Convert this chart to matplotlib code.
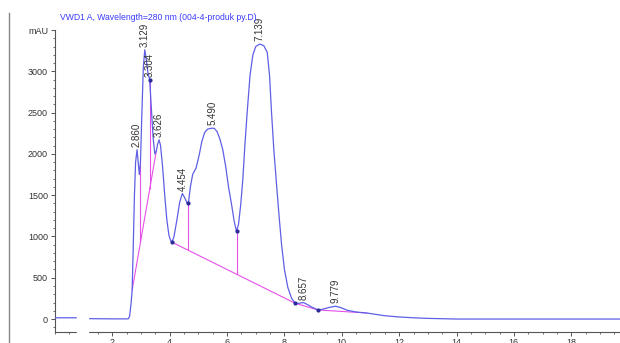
import matplotlib.pyplot as plt
from matplotlib.lines import Line2D
from matplotlib.patches import Rectangle
from matplotlib.ticker import MultipleLocator

plt.rcParams['font.family'] = ['Liberation Sans', 'DejaVu Sans']

# senal del detector: tiempo (min) y absorbancia (mAU)
t = [0.0, 0.9, 1.1, 2.0, 2.55, 2.60, 2.65, 2.69, 2.73, 2.77, 2.81, 2.86, 2.90, 2.94,
     2.98, 3.03, 3.08, 3.13, 3.18, 3.24, 3.30, 3.36, 3.42, 3.48, 3.53, 3.58, 3.63,
     3.68, 3.75, 3.83, 3.90, 3.97, 4.03, 4.08, 4.15, 4.25, 4.35, 4.44, 4.52, 4.60,
     4.65, 4.72, 4.80, 4.92, 5.03, 5.12, 5.22, 5.32, 5.45, 5.55, 5.65, 5.75, 5.85,
     5.95, 6.05, 6.15, 6.25, 6.33, 6.40, 6.48, 6.55, 6.62, 6.70, 6.80, 6.90, 7.00,
     7.14, 7.28, 7.40, 7.48, 7.55, 7.63, 7.72, 7.80, 7.90, 8.00, 8.12, 8.25, 8.38,
     8.50, 8.66, 8.80, 8.95, 9.17, 9.35, 9.55, 9.78, 9.95, 10.2, 10.5, 10.87, 11.5,
     12.0, 12.5, 13.0, 14.0, 20.5]
mau = [15, 15, 5, 2, 2, 30, 180, 350, 900, 1500, 1900, 2050, 1900, 1750,
       1900, 2500, 3050, 3260, 3150, 2980, 2900, 2550, 2200, 2000, 2030, 2120, 2170,
       2100, 1850, 1480, 1200, 1020, 950, 930, 1000, 1200, 1420, 1520, 1470, 1410,
       1400, 1600, 1750, 1830, 1990, 2150, 2260, 2300, 2310, 2310, 2270, 2180, 2050,
       1850, 1600, 1400, 1180, 1060, 1150, 1400, 1700, 2100, 2500, 2950, 3200, 3300,
       3330, 3310, 3230, 2950, 2500, 2050, 1650, 1300, 900, 600, 380, 250, 190,
       190, 200, 175, 145, 110, 120, 140, 155, 140, 105, 85, 73, 40,
       25, 15, 8, 0, 0]

# picos integrados (tiempo de retencion y altura)
peak_t = [2.860, 3.129, 3.304, 3.626, 4.454, 5.490, 7.139, 8.657, 9.779]
peak_h = [2050, 3260, 2900, 2170, 1520, 2310, 3330, 200, 155]

# lineas base de la integracion
base1_t = [2.69, 3.53]
base1_h = [350, 2030]
base2_t = [4.08, 8.38, 9.17, 10.87]
base2_h = [930, 190, 110, 73]

# lineas de caida entre picos
drop_t = [2.98, 3.304, 4.65, 6.33]
drop_top = [1900, 2900, 1400, 1060]
drop_bot = [930, 1580, 832, 543]

# puntos marcados en valles
valley_t = [3.304, 4.08, 4.65, 6.33, 8.38, 9.17]
valley_h = [2900, 930, 1400, 1060, 190, 110]

blue = '#5f5fe6'
pink = '#e650e6'

fig = plt.figure(figsize=(6.2, 3.43), dpi=100)
ax = fig.add_axes([55/620, 11/343, 1 - 55/620, (332 - 30)/343])

ax.plot(t, mau, color=blue, linewidth=0.9, zorder=3)
ax.plot(base1_t, base1_h, color=pink, linewidth=0.8, zorder=2)
ax.plot(base2_t, base2_h, color=pink, linewidth=0.8, zorder=2)
ax.vlines(drop_t, drop_bot, drop_top, color=pink, linewidth=0.8, zorder=2)
ax.scatter(valley_t, valley_h, s=4, color='#2a2a9a', zorder=4)

# etiquetas de los picos
for pt, ph in zip(peak_t, peak_h):
    ax.annotate(f"{pt:.3f}", (pt, ph), xytext=(0, 2), textcoords='offset points',
                rotation=90, ha='center', va='bottom', fontsize=7, color='#333333')

ax.set_xlim(0, 19.7)
ax.set_ylim(-157, 3500)
ax.set_xticks([2, 4, 6, 8, 10, 12, 14, 16, 18])
ax.xaxis.set_minor_locator(MultipleLocator(0.5))
ax.set_yticks([0, 500, 1000, 1500, 2000, 2500, 3000, 3500])
ax.set_yticklabels(['0', '500', '1000', '1500', '2000', '2500', '3000', 'mAU'])
ax.yaxis.set_minor_locator(MultipleLocator(100))
ax.tick_params(which='major', length=3, width=0.7, color='#555555', labelsize=6.5,
               labelcolor='#333333', pad=2)
ax.tick_params(axis='x', pad=1)
ax.tick_params(which='minor', length=1.5, width=0.6, color='#555555')
for s in ['top', 'right']:
    ax.spines[s].set_visible(False)
for s in ['left', 'bottom']:
    ax.spines[s].set_color('#555555')
    ax.spines[s].set_linewidth(0.8)

fig.text(60/620, 1 - 18/343, "VWD1 A, Wavelength=280 nm (004-4-produk py.D)",
         color='#3a3aff', fontsize=6.2, va='center', ha='left')

# borde izquierdo y hueco blanco del original
fig.add_artist(Line2D([9/620, 9/620], [0, 1 - 13/343], color='#888888', linewidth=1))
fig.add_artist(Rectangle((77/620, 0), 11/620, 31/343, color='white',
                         transform=fig.transFigure, zorder=10))

plt.savefig("out.png")
